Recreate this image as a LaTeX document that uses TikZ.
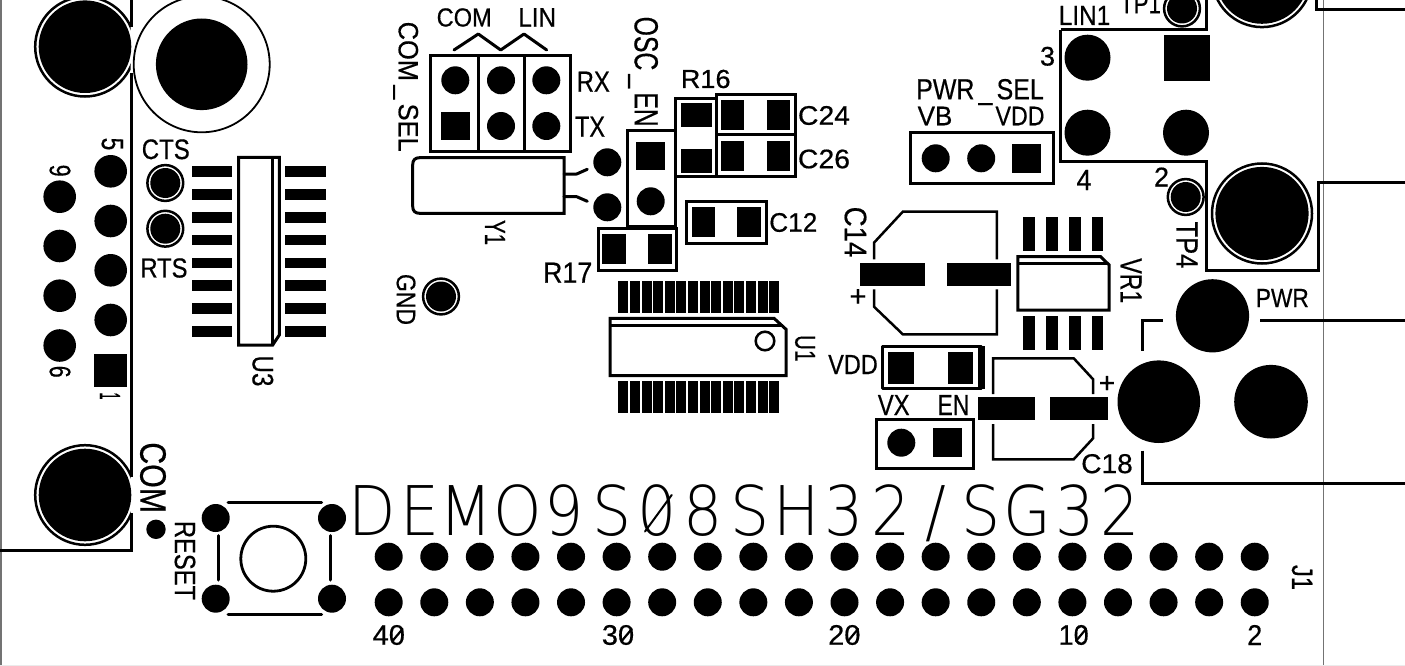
\documentclass[tikz,border=0pt]{standalone}
\usepackage{fontspec}
\usepackage{graphicx}
\setmainfont[FakeBold=0.5]{Liberation Sans}
\newfontfamily\thinfont[FakeStretch=0.9]{DejaVu Sans ExtraLight}
\newcommand{\mc}[2]{\makebox[#1pt][l]{\makebox[0pt][c]{#2}}}
% \lb{name}{x}{y}{angle}{w}{h}{text}
\newcommand{\lb}[7]{\node[lbl,rotate=#4] (#1) at (#2,#3) {\resizebox*{#5pt}{#6pt}{#7}};}
\tikzset{
 lbl/.style={inner sep=0pt,outer sep=0pt},
 sk/.style={line width=3pt,line cap=round,line join=round,draw=black},
 thinl/.style={line width=2.5pt,draw=black},
 pad/.style={fill=black,draw=none},
 trace/.style={line width=3pt,draw=black,line cap=butt,line join=miter},
 frame/.style={line width=1.5pt,draw=black!55},
 zslash/.style={line width=2.2pt,draw=black,line cap=round},
 titleslash/.style={line width=2pt,draw=black,line cap=round}
}
\newcommand{\rp}[4]{\fill[pad] (#1,#3) rectangle (#2,#4);}
\newcommand{\cp}[3]{\fill[pad] (#1,#2) circle[radius=#3];}
\newcommand{\tp}[2]{\draw[thinl] (#1,#2) circle[radius=17.9]; \fill[pad] (#1,#2) circle[radius=15];}
\newcommand{\sq}[3]{\fill[pad] ({#1-#3/2},{#2-#3/2}) rectangle ({#1+#3/2},{#2+#3/2});}
\begin{document}
\begin{tikzpicture}[x=1pt,y=-1pt]
\useasboundingbox (0,0) rectangle (1405,666);
\clip (0,0) rectangle (1405,666);
\fill[white] (0,0) rectangle (1405,666);
% board frame
\draw[frame] (1.2,0) -- (1.2,666);
\draw[frame] (1323.6,0) -- (1323.6,666);
\draw[line width=1pt,draw=black!8] (0,665.5) -- (1405,665.5);
% connector mounting rings
\begin{scope}
\clip (0,-40) rectangle (130.5,666);
\draw[thinl] (85,46.7) circle[radius=49.8];
\draw[thinl] (85,495) circle[radius=49.8];
\end{scope}
\cp{85}{46.7}{46.3} \cp{85}{495}{46.3}
\draw[line width=1.8pt] (201.7,64.3) circle[radius=68];
\cp{201.7}{64.3}{45.8}
\draw[trace] (131.3,0) -- (131.3,27);
\draw[trace] (131.3,73) -- (131.3,477);
\draw[trace] (0,550) -- (131.3,550) -- (131.3,513);
% DB9 pads
\foreach \y in {171.3,221,270.3,320} {\cp{110.7}{\y}{16.3}}
\sq{110.7}{370}{33}
\foreach \y in {196.7,246,295.7,345.5} {\cp{59.7}{\y}{16.3}}
\lb{l5}{112.3}{144}{-90}{12.6}{21.6}{5}
\lb{l9}{60}{170.7}{-90}{12}{21}{9}
\lb{l6}{60}{371.7}{-90}{12}{21}{6}
\lb{l1}{110}{396}{-90}{7}{20}{1}
\lb{cts}{165.8}{149.3}{0}{48}{20}{CTS}
\lb{rts}{164}{268}{0}{47}{19.5}{RTS}
\tp{165.3}{183} \tp{165.3}{228.7}
% U3
\foreach \y in {171.7,194.7,217.3,240,263,285.7,308.7,331.3} {
 \rp{192}{232.3}{\y-5.4}{\y+5.4}
 \rp{285.3}{326}{\y-5.4}{\y+5.4}
}
\draw[trace] (238.7,157.3) -- (279.3,157.3) -- (279.3,335) -- (272.7,345) -- (238.7,345) -- cycle;
\draw[thinl] (272.7,157.3) -- (272.7,345);
\lb{u3}{262.8}{371}{-90}{31}{21}{U3}
% COM / reset
\lb{comv}{153}{477.7}{-90}{70.7}{26}{COM}
\cp{156}{529.3}{9.7}
\lb{reset}{185}{560.5}{-90}{79}{20.7}{RESET}
\cp{215.7}{518}{14} \cp{332}{518}{14} \cp{215.7}{598.7}{14} \cp{332}{598.7}{14}
\draw[sk] (228,502.3) -- (321.7,502.3);
\draw[sk] (228,614) -- (321.7,614);
\draw[sk] (218.3,535.7) -- (218.3,580);
\draw[sk] (330,535.7) -- (330,580);
\draw[line width=2.8pt] (273.3,558.7) circle[radius=32.5];
% Title
\node[lbl,anchor=base west] (title) at (372.5,535) {\thinfont\fontsize{68.5}{70}\selectfont\mc{48}{D}\mc{46}{E}\mc{51.5}{M}\mc{46.5}{O}\mc{47.5}{9}\mc{45.5}{S}\mc{46}{0}\mc{46.5}{8}\mc{47}{S}\mc{47}{H}\mc{47}{3}\mc{44.5}{2}\mc{46}{/}\mc{46.2}{S}\mc{47.3}{G}\mc{45}{3}\mc{17}{2}};
\draw[titleslash] (645,531.5) -- (671.7,495);
% COM LIN header
\lb{com}{464.2}{17.5}{0}{55}{18.5}{COM}
\lb{lin}{537.2}{17.5}{0}{37.7}{18.5}{LIN}
\draw[sk] (454,50) -- (478.3,34) -- (500.7,50) -- (524,34) -- (546.7,50);
\draw[trace] (430,55.7) rectangle (570,151.7);
\draw[trace] (478.7,55.7) -- (478.7,151.7);
\draw[trace] (524,55.7) -- (524,151.7);
\foreach \x in {455.3,501,546.3} {\cp{\x}{80.3}{14}}
\sq{455.3}{126}{28.7}
\cp{501}{126}{14} \cp{546.3}{126}{14}
\lb{comsel}{405.7}{86.7}{-90}{130}{25}{COM\,\_\,SEL}
\lb{rx}{593.3}{81.7}{0}{33}{20}{RX}
\lb{tx}{590}{126.7}{0}{30}{20}{TX}
\lb{oscen}{643}{71.7}{-90}{110}{30}{OSC\,\_\,EN}
\lb{r16}{705.7}{79}{0}{49.7}{18.5}{R16}
\draw[trace] (675.7,99) rectangle (716.7,176.7);
\rp{681}{711.7}{102.7}{126.7} \rp{681}{711.7}{149}{172.7}
\draw[trace] (716.7,94.3) rectangle (795,135);
\draw[trace] (716.7,135) rectangle (795,176.7);
\rp{721}{744.3}{100}{130} \rp{766.7}{790}{100}{130}
\rp{721}{744.3}{140.7}{170.7} \rp{766.7}{790}{140.7}{170.7}
\lb{c24}{824}{115.5}{0}{52}{19}{C24}
\lb{c26}{824}{159}{0}{52}{19}{C26}
% Y1
\draw[trace] (564,157.7) -- (419.7,157.7) .. controls (415,157.7) and (412.7,160) .. (412.7,164.7) -- (412.7,206.3) .. controls (412.7,211) and (415,213.3) .. (419.7,213.3) -- (564,213.3) -- cycle;
\lb{y1}{495}{232.5}{-90}{25}{20}{Y1}
\draw[sk] (564,174) -- (576.7,174) -- (587.3,169.3);
\draw[sk] (564,196.7) -- (576.7,196.7) -- (587.3,201.3);
\cp{607.3}{162.3}{14} \cp{607.3}{207.3}{14}
% OSC_EN
\draw[trace] (627.7,131) rectangle (675.7,226.7);
\sq{650.7}{156}{28.7}
\cp{650.7}{201.3}{14}
% R17
\draw[trace] (598.3,228.3) rectangle (676.7,270);
\rp{602.3}{626}{234}{264.3} \rp{648.3}{671.7}{234}{264.3}
\lb{r17}{567.7}{272.7}{0}{49.3}{20}{R17}
% C12
\draw[trace] (686.7,201) rectangle (766,243.3);
\rp{691.7}{715}{206.7}{236.7} \rp{737.3}{760.7}{206.7}{236.7}
\lb{c12}{793.3}{222.5}{0}{48}{19}{C12}
% GND
\lb{gnd}{406}{299.5}{-90}{51}{19}{GND}
\tp{441}{296.5}
% U1
\foreach \i in {0,...,13} {
 \pgfmathsetmacro{\xx}{623.3+\i*11.6}
 \rp{\xx-5}{\xx+5}{280.7}{313.3}
 \rp{\xx-5}{\xx+5}{380.7}{413.3}
}
\draw[trace] (610,318.3) -- (774,318.3) -- (786,329.3) -- (786,375.7) -- (610,375.7) -- cycle;
\draw[thinl] (610,325.7) -- (783,325.7);
\draw[line width=2.5pt] (765,341) circle[radius=9.3];
\lb{u1}{805}{348.3}{-90}{26.7}{20}{U1}
% LIN1
\lb{lin1}{1084.5}{15.5}{0}{51.5}{19}{LIN1}
\lb{tp1}{1140.5}{3.7}{0}{41}{19}{TP1}
\draw[trace] (1060.7,30) -- (1206.2,30) -- (1206.2,0);
\draw[trace] (1060.7,30) -- (1060.7,161) -- (1206.2,161) -- (1206.2,270.7) -- (1318.5,270.7) -- (1318.5,182.3) -- (1405,182.3);
\draw[trace] (1316.3,0) -- (1316.3,9.3) -- (1405,9.3);
\tp{1182}{8.5}
\draw[thinl] (1262,-22.7) circle[radius=49.8]; \cp{1262}{-22.7}{46.5}
\draw[thinl] (1262,213.5) circle[radius=50]; \cp{1262}{213.5}{46.6}
\cp{1087.5}{57.7}{23} \cp{1087.5}{132.7}{23} \cp{1186}{132.7}{23}
\sq{1186.6}{57.8}{46}
\lb{n3}{1047.5}{56.3}{0}{15}{19}{3}
\lb{n4}{1084}{180}{0}{15}{20}{4}
\lb{n2}{1161.5}{177}{0}{15}{19}{2}
\tp{1185.7}{197}
\lb{tp4}{1187}{245}{-90}{46.7}{21}{TP4}
% PWR_SEL
\lb{pwrsel}{980}{92}{0}{127.6}{26}{PWR\,\_\,SEL}
\lb{vb}{935}{116}{0}{34.7}{18.5}{VB}
\lb{vdda}{1020}{116}{0}{49}{18.5}{VDD}
\draw[trace] (910.3,132.3) rectangle (1053.2,183.3);
\cp{935.7}{158.3}{14} \cp{981.2}{158.3}{14}
\sq{1026.7}{158.3}{28.5}
% C14
\draw[thinl] (874,259.3) -- (874,242.7) -- (902.8,211.7) -- (996.9,211.7) -- (996.9,259.3);
\draw[thinl] (874,289.3) -- (874,306.7) -- (902.8,334.3) -- (996.9,334.3) -- (996.9,289.3);
\rp{860}{924.5}{262.7}{286} \rp{946.9}{1011}{262.7}{286}
\lb{c14}{855.5}{232}{-90}{50.6}{22}{C14}
\lb{plusa}{858}{297.7}{0}{17}{17}{+}
% VR1
\draw[trace] (1017.8,256.7) -- (1100.6,256.7) -- (1109.2,265) -- (1109.2,310) -- (1017.8,310) -- cycle;
\draw[thinl] (1017.8,263.3) -- (1107,263.3);
\foreach \x in {1029,1052,1074.9,1097.2} {
 \rp{\x-5.7}{\x+5.7}{216.7}{250.7}
 \rp{\x-5.7}{\x+5.7}{316}{350}
}
\lb{vr1}{1131}{280.8}{-90}{45}{21}{VR1}
% PWR
\cp{1212.5}{315.8}{36.6}
\lb{pwr}{1282.3}{298}{0}{53}{18}{PWR}
\draw[trace] (1260.3,320) -- (1405,320);
\draw[trace] (1162.5,320) -- (1142.8,320) -- (1142.8,350.7);
\draw[trace] (1142.8,450.7) -- (1142.8,483.3) -- (1405,483.3);
\cp{1158.8}{401.7}{41.3} \cp{1271}{401.7}{36.8}
% VDD
\lb{vddb}{853}{364.5}{0}{49.6}{19}{VDD}
\draw[trace,line join=round] (882.5,346.5) rectangle (981,388.5);
\draw[line width=7pt] (981.3,346) -- (981.3,389);
\rp{888}{914}{351.7}{384.3} \rp{947.7}{973.3}{351.7}{384.3}
\lb{vx}{893.7}{405}{0}{31.8}{20}{VX}
\lb{en}{953.4}{405}{0}{31.8}{20}{EN}
\draw[trace] (876,419.3) rectangle (973,468.3);
\cp{901.3}{442.7}{14}
\sq{947.2}{442.7}{28.7}
% C18
\draw[thinl] (993.1,394) -- (993.1,358.3) -- (1073.7,358.3) -- (1093.1,379.3) -- (1093.1,394);
\draw[thinl] (993.1,424) -- (993.1,459.3) -- (1073.7,459.3) -- (1093.1,438.3) -- (1093.1,424);
\rp{977.5}{1035.3}{397.3}{420} \rp{1050.2}{1108}{397.3}{420}
\lb{plusb}{1107}{384.3}{0}{16.5}{16.5}{+}
\lb{c18}{1107}{463.7}{0}{51.5}{19.3}{C18}
% J1
\foreach \i in {0,...,19} {
 \pgfmathsetmacro{\xx}{388.7+\i*45.58}
 \cp{\xx}{556.7}{14} \cp{\xx}{602.3}{14}
}
\lb{j1}{1302}{577.5}{-90}{25}{20.5}{J1}
\lb{n40}{388.8}{635}{0}{32.3}{20}{40}
\lb{n30}{618}{635}{0}{32.3}{20}{30}
\lb{n20}{844.3}{635}{0}{32.3}{20}{20}
\lb{n10}{1073.7}{635}{0}{30}{20}{10}
\lb{ntwo}{1254.7}{635}{0}{15}{20}{2}
\draw[zslash] (392.5,641) -- (402.5,629);
\draw[zslash] (621.7,641) -- (631.7,629);
\draw[zslash] (848,641) -- (858,629);
\draw[zslash] (1076,641) -- (1086,629);
\end{tikzpicture}
\end{document}
